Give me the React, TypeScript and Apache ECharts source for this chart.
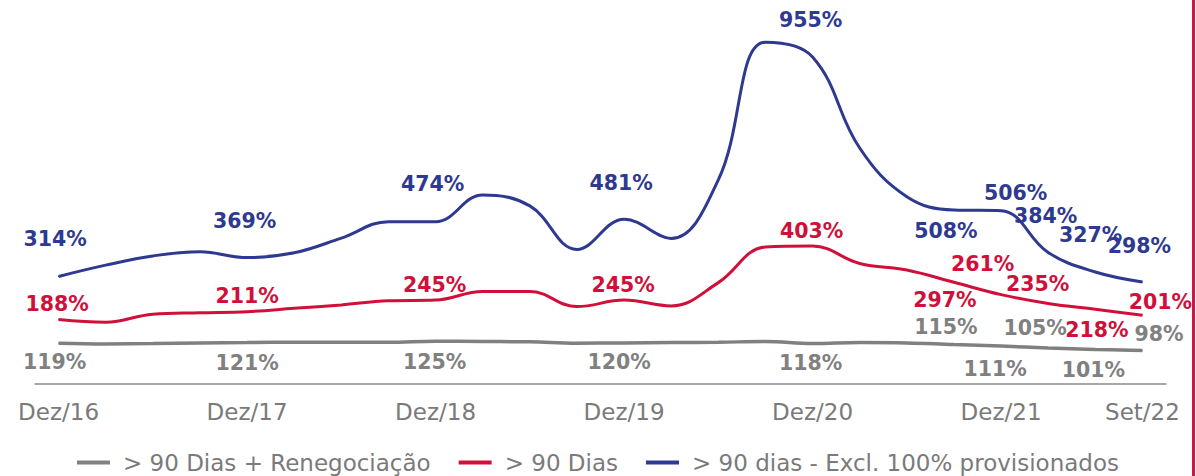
import React, { useEffect, useRef } from "react";
import * as echarts from "echarts";

const categories = [
  "Dez/16", "Mar/17", "Jun/17", "Set/17", "Dez/17", "Mar/18", "Jun/18", "Set/18",
  "Dez/18", "Mar/19", "Jun/19", "Set/19", "Dez/19", "Mar/20", "Jun/20", "Set/20",
  "Dez/20", "Mar/21", "Jun/21", "Set/21", "Dez/21", "Mar/22", "Jun/22", "Set/22",
];
const shownTickIndexes = [0, 4, 8, 12, 16, 20, 23];

const seriesNames = ["> 90 Dias + Renegociação", "> 90 Dias", "> 90 dias - Excl. 100% provisionados"];

const renegociacao = [119, 117, 118, 120, 121, 122, 122, 122, 125, 124, 123, 119, 120, 121, 122, 124, 118, 121, 120, 115, 111, 105, 101, 98];
const dias90 = [188, 180, 204, 208, 211, 221, 231, 243, 245, 270, 270, 226, 245, 228, 296, 400, 403, 352, 333, 297, 261, 235, 218, 201];
const exclProvisionados = [314, 347, 374, 386, 369, 383, 426, 474, 474, 552, 520, 393, 481, 425, 596, 998, 955, 689, 547, 508, 506, 384, 327, 298];

// indexes of the points that carry a value label
const labelledIndexes = [0, 4, 8, 12, 16, 19, 20, 21, 22, 23];

export default function App() {
  const ref = useRef<HTMLDivElement>(null);

  useEffect(() => {
    if (!ref.current) return;
    const chart = echarts.init(ref.current, undefined, { renderer: "svg" });

    const GRAY = "#808080";
    const RED = "#d0103a";
    const BLUE = "#2e3990";

    // label offsets (style only) for each labelled point
    const offsets: Record<string, number[][]> = {
      gray: [[-4, 19], [0, 20], [-1, 20.5], [-5, 19], [-2, 19.5], [-8, -17.5], [-6, 23], [-13, -20.5], [-2, 21], [16.5, -16.5]],
      red: [[-1.5, -15.5], [0, -15.5], [-1, -15.3], [-1, -15], [-1, -15.2], [-9, 18.2], [-18.5, -31], [-10.5, -19.7], [1.5, 20.7], [18, -13.2]],
      blue: [[-3.5, -37], [-2.5, -36.6], [-3, -37.7], [-3, -36], [-2, -37], [-8, 20.5], [14.5, -18], [-2.6, -36.7], [-4.7, -37], [-3, -36.4]],
    };

    const build = (values: number[], key: string, color: string) =>
      values.map((v, i) => {
        const k = labelledIndexes.indexOf(i);
        if (k < 0) return v;
        return {
          value: v,
          label: {
            show: true,
            position: "inside",
            offset: offsets[key][k],
            formatter: "{c}%",
            color,
            fontFamily: "DejaVu Sans",
            fontWeight: "bold",
            fontSize: 20.5,
          },
        };
      });

    const mk = (name: string, values: number[], key: string, color: string, width: number) => ({
      name,
      type: "line",
      smooth: 0.4,
      data: build(values, key, color),
      symbol: "circle",
      symbolSize: 1,
      showSymbol: true,
      showAllSymbol: true,
      itemStyle: { color },
      lineStyle: { color, width },
      label: { show: false },
      emphasis: { disabled: true },
      silent: true,
    });

    chart.setOption({
      animation: false,
      grid: { left: 35, right: 30, top: 41.5, bottom: 92 },
      legend: {
        left: "center",
        top: 446,
        icon: "rect",
        itemWidth: 33,
        itemHeight: 4,
        itemGap: 28,
        textStyle: {
          fontFamily: "DejaVu Sans",
          fontSize: 23,
          color: "#7a7a7a",
          padding: [0, 0, 0, 8],
        },
        data: seriesNames,
      },
      xAxis: {
        type: "category",
        data: categories,
        boundaryGap: true,
        axisLine: { show: true, lineStyle: { color: "#8a8a8a", width: 1.5 } },
        axisTick: { show: false },
        axisLabel: {
          interval: (i: number) => shownTickIndexes.includes(i),
          fontFamily: "DejaVu Sans",
          fontSize: 23,
          color: "#7a7a7a",
          margin: 16,
        },
        splitLine: { show: false },
      },
      yAxis: {
        type: "value",
        min: 0,
        max: 1000,
        show: false,
        splitLine: { show: false },
      },
      graphic: [
        {
          type: "rect",
          shape: { x: 1192, y: 0, width: 3, height: 476 },
          style: { fill: "#d31245" },
          silent: true,
        },
      ],
      series: [
        mk(seriesNames[0], renegociacao, "gray", GRAY, 3.5),
        mk(seriesNames[1], dias90, "red", RED, 3),
        mk(seriesNames[2], exclProvisionados, "blue", BLUE, 3),
      ],
    });

    return () => chart.dispose();
  }, []);

  return (
    <div
      ref={ref}
      style={{ position: "fixed", left: 0, top: 0, width: 1196, height: 476, background: "#fff" }}
    />
  );
}
